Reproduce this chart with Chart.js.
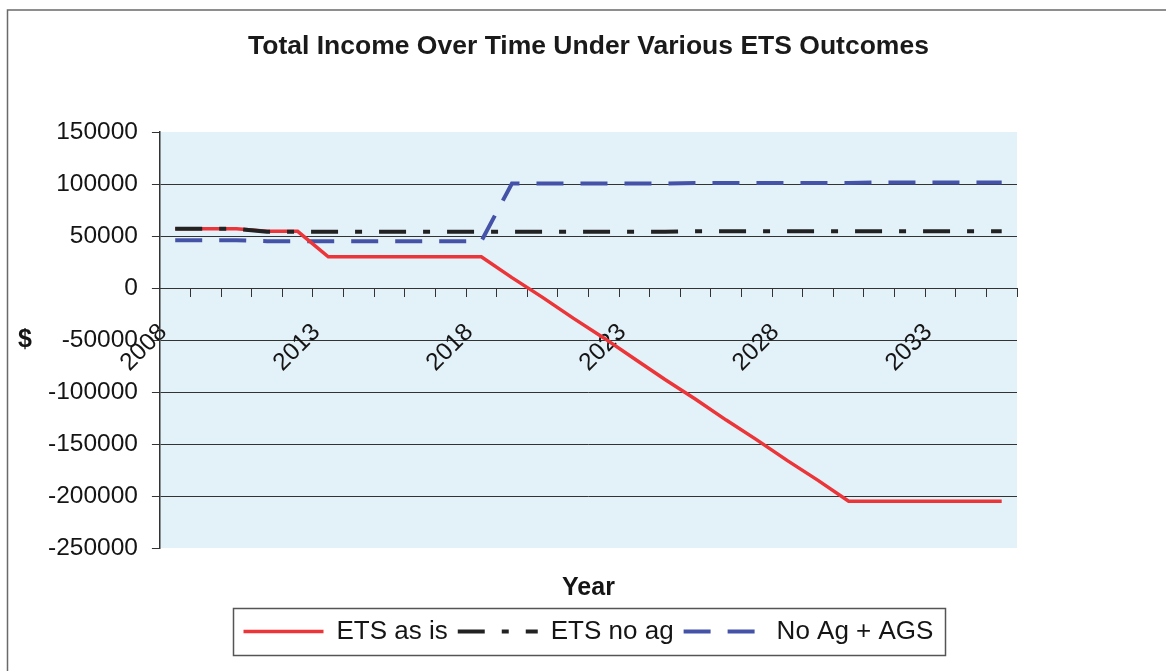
<!doctype html>
<html lang="en">
<head>
<meta charset="utf-8" />
<title>Total Income Over Time Under Various ETS Outcomes</title>
<script src="https://cdn.jsdelivr.net/npm/chart.js@4"></script>
<style>
  html, body { margin: 0; padding: 0; background: #fff; overflow: hidden; }
  .wrap { position: relative; width: 1166px; height: 671px; }
</style>
</head>
<body>
<div class="wrap"><canvas id="income"></canvas></div>
<script>
// values
const years = ['2008', '2009', '2010', '2011', '2012', '2013', '2014', '2015', '2016', '2017',
  '2018', '2019', '2020', '2021', '2022', '2023', '2024', '2025', '2026', '2027',
  '2028', '2029', '2030', '2031', '2032', '2033', '2034', '2035'];
const shownYears = ['2008', '2013', '2018', '2023', '2028', '2033'];
const yTicks = [150000, 100000, 50000, 0, -50000, -100000, -150000, -200000, -250000];

const etsAsIs = [57000, 57000, 57000, 54500, 54500, 30000, 30000, 30000, 30000, 30000,
  30000, 10000, -9000, -29000, -48000, -68000, -88000, -107000, -127000, -146000,
  -166000, -185000, -205000, -205000, -205000, -205000, -205000, -205000];
const etsNoAg = [57000, 57000, 57000, 54000, 54000, 54000, 54000, 54000, 54000, 54000,
  54000, 54000, 54000, 54000, 54000, 54000, 54000, 54500, 54500, 54500,
  54500, 54500, 54500, 54500, 54500, 54500, 54500, 54500];
const noAgAgs = [46000, 46000, 46000, 45000, 45000, 45000, 45000, 45000, 45000, 45000,
  45000, 100500, 100500, 100500, 100500, 100500, 100500, 101000, 101000, 101000,
  101000, 101000, 101000, 101500, 101500, 101500, 101500, 101500];

const fontFamily = '"Liberation Sans", Arial, sans-serif';
Chart.defaults.font.family = fontFamily;
Chart.defaults.color = '#151515';

const yMax = yTicks[0];
const yMin = yTicks[yTicks.length - 1];

const sheetDecor = {
  id: 'sheetDecor',
  beforeDraw(chart) {
    const { ctx, chartArea: a } = chart;
    ctx.save();
    // page frame (top + left edges are the only ones visible)
    ctx.strokeStyle = '#6a6a6a';
    ctx.lineWidth = 1.5;
    ctx.beginPath();
    ctx.moveTo(7.5, 680);
    ctx.lineTo(7.5, 10);
    ctx.lineTo(1170, 10);
    ctx.stroke();
    // plot background
    ctx.fillStyle = '#e3f1f9';
    ctx.fillRect(a.left, a.top, a.right - a.left, a.bottom - a.top);
    ctx.restore();
  },
  afterDraw(chart) {
    const { ctx, chartArea: a, legend } = chart;
    ctx.save();
    // upright "$" axis title
    ctx.fillStyle = '#151515';
    ctx.font = 'bold 25px ' + fontFamily;
    ctx.textAlign = 'center';
    ctx.textBaseline = 'middle';
    ctx.fillText('$', 25, (a.top + a.bottom) / 2);
    // frame round the legend
    const boxes = legend.legendHitBoxes;
    if (boxes && boxes.length) {
      const left = Math.min(...boxes.map((b) => b.left)) - 11;
      const right = Math.max(...boxes.map((b) => b.left + b.width)) + 11;
      const top = boxes[0].top - 10.5;
      const bottom = boxes[0].top + boxes[0].height + 10.5;
      ctx.strokeStyle = '#555';
      ctx.lineWidth = 1.5;
      ctx.strokeRect(Math.round(left) + 0.5, Math.round(top) + 0.5, Math.round(right - left), Math.round(bottom - top));
    }
    ctx.restore();
  },
};

const legendLabels = (chart) => Chart.defaults.plugins.legend.labels.generateLabels(chart).map((item) => {
  const ds = chart.data.datasets[item.datasetIndex];
  return { ...item, strokeStyle: ds.borderColor, lineWidth: ds.borderWidth, lineDash: ds.borderDash || [] };
});

new Chart(document.getElementById('income'), {
  type: 'line',
  data: {
    labels: years,
    datasets: [
      { label: 'ETS as is', data: etsAsIs, borderColor: '#ec3538', borderWidth: 3.5, order: 1 },
      { label: 'ETS no ag', data: etsNoAg, borderColor: '#222222', borderWidth: 4, borderDash: [27, 17, 7, 17], order: 0 },
      { label: 'No Ag + AGS', data: noAgAgs, borderColor: '#4453a8', borderWidth: 4, borderDash: [27, 17], order: 2 },
    ],
  },
  options: {
    responsive: true,
    maintainAspectRatio: false,
    animation: false,
    events: [],
    elements: { point: { radius: 0, pointStyle: 'line' }, line: { tension: 0 } },
    layout: { padding: { left: 34, right: 149, top: 0, bottom: 16.5 } },
    plugins: {
      tooltip: { enabled: false },
      title: {
        display: true,
        text: 'Total Income Over Time Under Various ETS Outcomes',
        fullSize: false,
        color: '#1a1a1a',
        font: { size: 26.5, weight: 'bold' },
        padding: { top: 30.8, bottom: 69.4 },
      },
      legend: {
        position: 'bottom',
        fullSize: false,
        labels: {
          usePointStyle: true,
          pointStyle: 'line',
          pointStyleWidth: 80,
          padding: 10,
          color: '#151515',
          font: { size: 26 },
          generateLabels: legendLabels,
          sort: (a, b) => a.datasetIndex - b.datasetIndex,
        },
      },
    },
    scales: {
      x: {
        type: 'category',
        position: { y: 0 },
        offset: true,
        afterFit: (scale) => { scale.paddingLeft = 0; scale.paddingRight = 0; },
        grid: { offset: true, drawOnChartArea: false, drawTicks: true, tickLength: 8, color: '#333' },
        border: { display: true, color: '#333', width: 1 },
        ticks: {
          autoSkip: false,
          minRotation: 45,
          maxRotation: 45,
          padding: 22,
          labelOffset: -12,
          color: '#151515',
          font: { size: 24.5 },
          callback: (value, index) => (shownYears.includes(years[index]) ? years[index] : ''),
        },
      },
      xYear: {
        type: 'linear',
        axis: 'x',
        position: 'bottom',
        grid: { display: false, drawTicks: false },
        border: { display: false },
        ticks: { display: false },
        title: {
          display: true,
          text: 'Year',
          color: '#151515',
          font: { size: 25, weight: 'bold' },
          padding: { top: 25, bottom: 5.5 },
        },
      },
      y: {
        min: yMin,
        max: yMax,
        afterBuildTicks: (scale) => { scale.ticks = yTicks.map((value) => ({ value })); },
        grid: {
          color: (ctx) => (ctx.tick && (ctx.tick.value === yMax || ctx.tick.value === yMin) ? 'rgba(0,0,0,0)' : '#333'),
          tickColor: '#333',
          lineWidth: 1,
          tickLength: 8,
        },
        border: { color: '#333', width: 1.5 },
        ticks: {
          padding: 14,
          color: '#151515',
          font: { size: 24.5 },
          callback: (value) => String(value),
        },
      },
    },
  },
  plugins: [sheetDecor],
});
</script>
</body>
</html>
